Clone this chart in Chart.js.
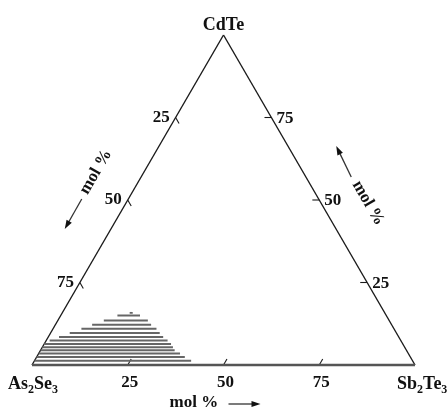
<!DOCTYPE html>
<html>
<head>
<meta charset="utf-8">
<script src="https://cdn.jsdelivr.net/npm/chart.js@4.4.1/dist/chart.umd.min.js"></script>
<style>
  html, body { margin: 0; padding: 0; background: #fff; }
  #wrap { width: 447px; height: 409px; }
</style>
</head>
<body>
<div id="wrap"><canvas id="chart" width="447" height="409"></canvas></div>
<script>
/* ================= DATA ================= */

// mol % ticks on every side
var tickValues = [25, 50, 75];

// hatched region, one horizontal line per CdTe content (mol %)
// each line runs from Sb2Te3 = hatchSbFrom to Sb2Te3 = hatchSbTo
var hatchCdTe   = [15.0, 13.5, 12.2, 11.0, 9.7, 8.5, 7.4, 6.4, 5.4, 4.5, 3.5, 2.4, 1.3];
var hatchSbFrom = [14.8, 12.0,  9.6,  7.4, 5.0, 2.8, 0.9, 0.0, 0.0, 0.0, 0.0, 0.0, 0.0];
var hatchSbTo   = [20.7, 23.5, 25.0, 27.0, 28.5, 30.0, 31.7, 33.1, 34.1, 35.0, 36.9, 38.7, 40.9];

// little dash on top of the region
var topCdTe = [15.8];
var topSbFrom = [17.6];
var topSbTo = [18.4];

/* ================= TERNARY HELPERS ================= */

var H = 86.6025; // height of triangle with side 100

// composition (Sb2Te3 %, CdTe %) -> chart units
function toXY(sb, cd) {
  return { x: sb + cd / 2, y: cd * H / 100 };
}

function segment(a, b, color, width) {
  return {
    data: [a, b],
    showLine: true,
    borderColor: color,
    borderWidth: width,
    pointRadius: 0,
    fill: false,
    clip: false
  };
}

var datasets = [];

// hatch lines
for (let i = 0; i < hatchCdTe.length; i++) {
  datasets.push(segment(toXY(hatchSbFrom[i], hatchCdTe[i]), toXY(hatchSbTo[i], hatchCdTe[i]), "#666666", 2));
}
for (let i = 0; i < topCdTe.length; i++) {
  datasets.push(segment(toXY(topSbFrom[i], topCdTe[i]), toXY(topSbTo[i], topCdTe[i]), "#666666", 1.8));
}

// triangle sides
var pAs = toXY(0, 0), pSb = toXY(100, 0), pCd = toXY(0, 100);
datasets.push(segment(pAs, pSb, "#555555", 2.6));
datasets.push(segment(pAs, pCd, "#1a1a1a", 1.4));
datasets.push(segment(pCd, pSb, "#1a1a1a", 1.4));

// ticks
var tl = 1.8;
tickValues.forEach(v => {
  // bottom: Sb2Te3 = v, tick parallel to left side
  var b = toXY(v, 0);
  datasets.push(segment(b, { x: b.x + tl * 0.5, y: b.y + tl * 0.866 }, "#1a1a1a", 1.1));
  // left: As2Se3 = v, so CdTe = 100 - v, tick parallel to right side
  var l = toXY(0, 100 - v);
  datasets.push(segment(l, { x: l.x + tl * 0.5, y: l.y - tl * 0.866 }, "#1a1a1a", 1.1));
  // right: CdTe = v, tick parallel to base
  var r = toXY(100 - v, v);
  datasets.push(segment(r, { x: r.x - tl, y: r.y }, "#1a1a1a", 1.1));
});

/* ================= LABELS ================= */

var FONT = "'Liberation Serif', 'Times New Roman', serif";

function drawChem(ctx, parts, x, y) {
  parts.forEach(p => {
    ctx.font = p[1] ? "bold 12px " + FONT : "bold 18px " + FONT;
    ctx.fillText(p[0], x, p[1] ? y + 4 : y);
    x += ctx.measureText(p[0]).width;
  });
}

function arrow(ctx, x1, y1, x2, y2) {
  var a = Math.atan2(y2 - y1, x2 - x1);
  ctx.strokeStyle = "#333";
  ctx.lineWidth = 1.3;
  ctx.beginPath();
  ctx.moveTo(x1, y1);
  ctx.lineTo(x2 - 6 * Math.cos(a), y2 - 6 * Math.sin(a));
  ctx.stroke();
  ctx.fillStyle = "#111";
  ctx.beginPath();
  ctx.moveTo(x2, y2);
  ctx.lineTo(x2 - 9 * Math.cos(a) + 3 * Math.sin(a), y2 - 9 * Math.sin(a) - 3 * Math.cos(a));
  ctx.lineTo(x2 - 9 * Math.cos(a) - 3 * Math.sin(a), y2 - 9 * Math.sin(a) + 3 * Math.cos(a));
  ctx.closePath();
  ctx.fill();
}

function molText(ctx, x, y, angle) {
  ctx.save();
  ctx.translate(x, y);
  ctx.rotate(angle);
  ctx.font = "bold 17px " + FONT;
  ctx.textAlign = "center";
  ctx.textBaseline = "middle";
  ctx.fillText("mol %", 0, 0);
  ctx.restore();
}

var labelPlugin = {
  id: "ternaryLabels",
  afterDraw(chart) {
    var ctx = chart.ctx;
    var xs = chart.scales.x, ys = chart.scales.y;
    function px(p) { return { x: xs.getPixelForValue(p.x), y: ys.getPixelForValue(p.y) }; }

    ctx.save();
    ctx.fillStyle = "#111";

    // corners
    var cd = px(pCd), as = px(pAs), sb = px(pSb);
    ctx.font = "bold 18px " + FONT;
    ctx.textAlign = "center";
    ctx.textBaseline = "alphabetic";
    ctx.fillText("CdTe", cd.x, cd.y - 5);
    ctx.textAlign = "left";
    drawChem(ctx, [["As", 0], ["2", 1], ["Se", 0], ["3", 1]], as.x - 24, as.y + 24);
    ctx.fillStyle = "#111";
    drawChem(ctx, [["Sb", 0], ["2", 1], ["Te", 0], ["3", 1]], sb.x - 18, sb.y + 24);

    // tick numbers
    ctx.font = "bold 17px " + FONT;
    ctx.textBaseline = "middle";
    tickValues.forEach(v => {
      var b = px(toXY(v, 0));
      ctx.textAlign = "center";
      ctx.fillText(String(v), b.x + 2, b.y + 18);
      var l = px(toXY(0, 100 - v));
      ctx.textAlign = "right";
      ctx.fillText(String(v), l.x - 6, l.y);
      var r = px(toXY(100 - v, v));
      ctx.textAlign = "left";
      ctx.fillText(String(v), r.x + 5, r.y + 1);
    });

    // axis titles with arrows
    var mL = px(toXY(0, 50)), mR = px(toXY(50, 50)), mB = px(toXY(50, 0));
    molText(ctx, mL.x - 32, mL.y - 28, -Math.PI / 3);
    arrow(ctx, mL.x - 46, mL.y - 1, mL.x - 63, mL.y + 29);
    molText(ctx, mR.x + 49, mR.y + 3, Math.PI / 3);
    arrow(ctx, mR.x + 32, mR.y - 23, mR.x + 17, mR.y - 54);
    ctx.font = "bold 17px " + FONT;
    ctx.textAlign = "left";
    ctx.textBaseline = "alphabetic";
    ctx.fillStyle = "#111";
    ctx.fillText("mol %", mB.x - 54, mB.y + 42);
    arrow(ctx, mB.x + 5, mB.y + 39, mB.x + 37, mB.y + 39);

    ctx.restore();
  }
};

/* ================= CHART ================= */

new Chart(document.getElementById("chart"), {
  type: "scatter",
  data: { datasets: datasets },
  options: {
    responsive: false,
    animation: false,
    layout: { padding: { left: 32, right: 32, top: 35, bottom: 44 } },
    plugins: { legend: { display: false }, tooltip: { enabled: false } },
    scales: {
      x: { type: "linear", min: 0, max: 100, display: false },
      y: { type: "linear", min: 0, max: H, display: false }
    }
  },
  plugins: [labelPlugin]
});
</script>
</body>
</html>
